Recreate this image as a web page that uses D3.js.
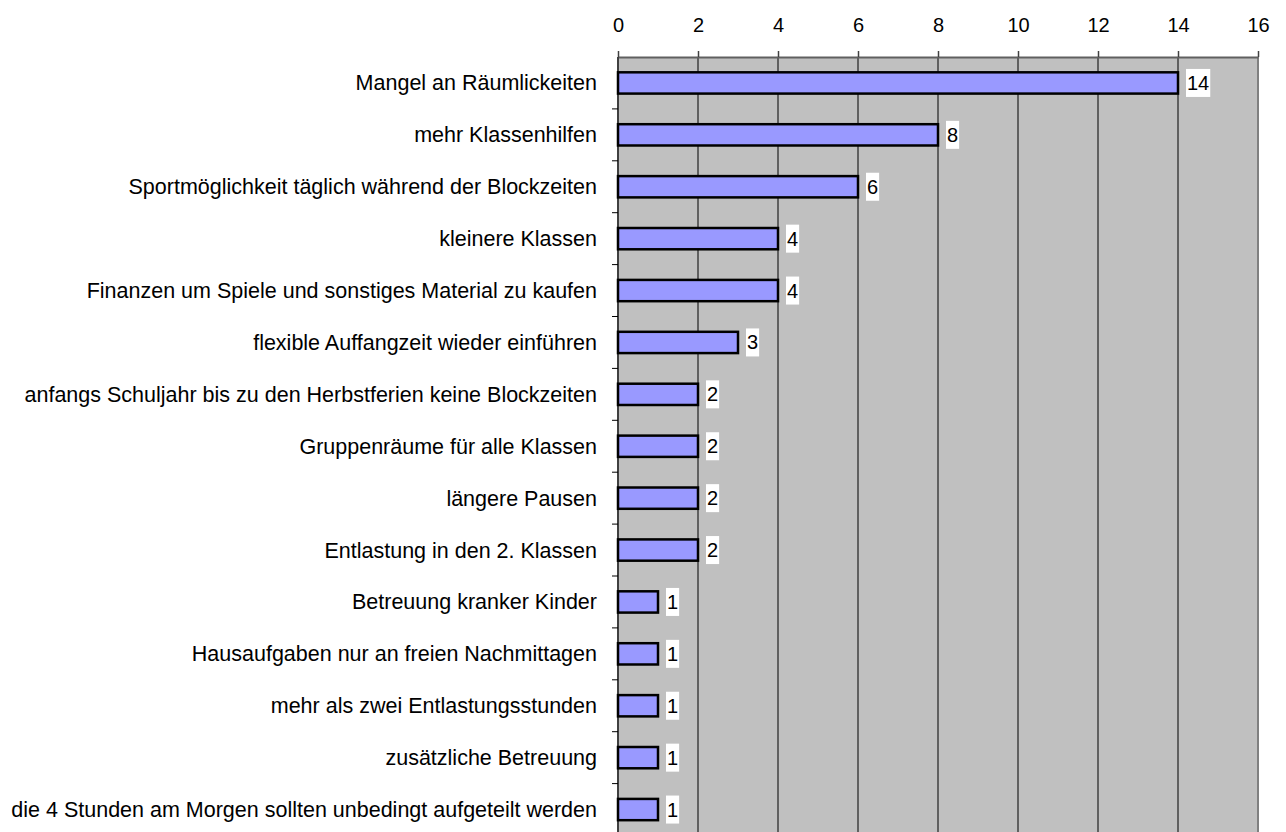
<!DOCTYPE html>
<html>
<head>
<meta charset="utf-8">
<script src="https://cdn.jsdelivr.net/npm/d3@7"></script>
<style>
  html, body { margin: 0; padding: 0; background: #fff; }
  svg { display: block; font-family: "Liberation Sans", Arial, sans-serif; }
</style>
</head>
<body>
<svg id="chart" width="1286" height="832"></svg>
<script>
const categories = [
  "Mangel an Räumlickeiten",
  "mehr Klassenhilfen",
  "Sportmöglichkeit täglich während der Blockzeiten",
  "kleinere Klassen",
  "Finanzen um Spiele und sonstiges Material zu kaufen",
  "flexible Auffangzeit wieder einführen",
  "anfangs Schuljahr bis zu den Herbstferien keine Blockzeiten",
  "Gruppenräume für alle Klassen",
  "längere Pausen",
  "Entlastung in den 2. Klassen",
  "Betreuung kranker Kinder",
  "Hausaufgaben nur an freien Nachmittagen",
  "mehr als zwei Entlastungsstunden",
  "zusätzliche Betreuung",
  "die 4 Stunden am Morgen sollten unbedingt aufgeteilt werden"
]
const values = [14, 8, 6, 4, 4, 3, 2, 2, 2, 2, 1, 1, 1, 1, 1]
const xTicks = [0, 2, 4, 6, 8, 10, 12, 14, 16]

const plotLeft = 618
const plotRight = 1258
const plotTop = 57
const bandH = 51.9

const svg = d3.select("#chart")

const x = d3.scaleLinear().domain([0, 16]).range([plotLeft, plotRight])
const y = d3.scaleBand()
  .domain(categories)
  .range([plotTop, plotTop + bandH * categories.length])
  .paddingInner(0.59)
  .paddingOuter(0.295)

// plot background
svg.append("rect")
  .attr("x", plotLeft)
  .attr("y", plotTop)
  .attr("width", plotRight - plotLeft)
  .attr("height", 832 - plotTop)
  .attr("fill", "#c0c0c0")

// vertical grid lines
svg.append("g")
  .selectAll("line")
  .data(xTicks.slice(1, -1))
  .enter()
  .append("line")
  .attr("x1", (d) => x(d))
  .attr("x2", (d) => x(d))
  .attr("y1", plotTop)
  .attr("y2", 832)
  .attr("stroke", "#000")
  .attr("stroke-width", 1)

// right edge
svg.append("line")
  .attr("x1", plotRight).attr("x2", plotRight)
  .attr("y1", plotTop).attr("y2", 832)
  .attr("stroke", "#808080")
  .attr("stroke-width", 2)

// top axis
const xAxis = svg.append("g")
  .attr("transform", `translate(0,${plotTop})`)
  .call(d3.axisTop(x).tickValues(xTicks).tickSize(6).tickPadding(19).tickSizeOuter(0))
xAxis.select(".domain").attr("stroke", "#606060").attr("stroke-width", 2)
xAxis.selectAll(".tick line").attr("stroke", "#404040").attr("stroke-width", 1.5)
xAxis.selectAll(".tick text")
  .attr("font-size", 20)
  .attr("fill", "#000")
  .style("font-family", '"Liberation Sans", Arial, sans-serif')

// left axis line + ticks at band boundaries
svg.append("line")
  .attr("x1", plotLeft).attr("x2", plotLeft)
  .attr("y1", plotTop).attr("y2", 832)
  .attr("stroke", "#404040")
  .attr("stroke-width", 2)

svg.append("g")
  .selectAll("line")
  .data(categories.slice(1))
  .enter()
  .append("line")
  .attr("x1", plotLeft - 6)
  .attr("x2", plotLeft)
  .attr("y1", (d) => y(d) - y.step() * y.paddingInner() / 2)
  .attr("y2", (d) => y(d) - y.step() * y.paddingInner() / 2)
  .attr("stroke", "#000")
  .attr("stroke-width", 1)

// category labels
svg.append("g")
  .selectAll("text")
  .data(categories)
  .enter()
  .append("text")
  .attr("x", plotLeft - 21)
  .attr("y", (d) => y(d) + y.bandwidth() / 2)
  .attr("dy", "0.35em")
  .attr("text-anchor", "end")
  .attr("font-size", 21.5)
  .attr("fill", "#000")
  .text((d) => d)

// bars
svg.append("g")
  .selectAll("rect")
  .data(values)
  .enter()
  .append("rect")
  .attr("x", x(0))
  .attr("y", (d, i) => y(categories[i]))
  .attr("width", (d) => x(d) - x(0))
  .attr("height", y.bandwidth())
  .attr("fill", "#9999ff")
  .attr("stroke", "#000")
  .attr("stroke-width", 2.5)

// value labels with white boxes
const vl = svg.append("g")
  .selectAll("g")
  .data(values)
  .enter()
  .append("g")
  .attr("transform", (d, i) => `translate(${x(d) + 8},${y(categories[i]) + y.bandwidth() / 2})`)

vl.append("text")
  .attr("x", 1)
  .attr("dy", "0.35em")
  .attr("font-size", 20)
  .attr("fill", "#000")
  .text((d) => d)

vl.each(function () {
  const g = d3.select(this)
  const bb = g.select("text").node().getBBox()
  g.insert("rect", "text")
    .attr("x", 0)
    .attr("y", -14)
    .attr("width", bb.width + 2)
    .attr("height", 28)
    .attr("fill", "#fff")
})
</script>
</body>
</html>
